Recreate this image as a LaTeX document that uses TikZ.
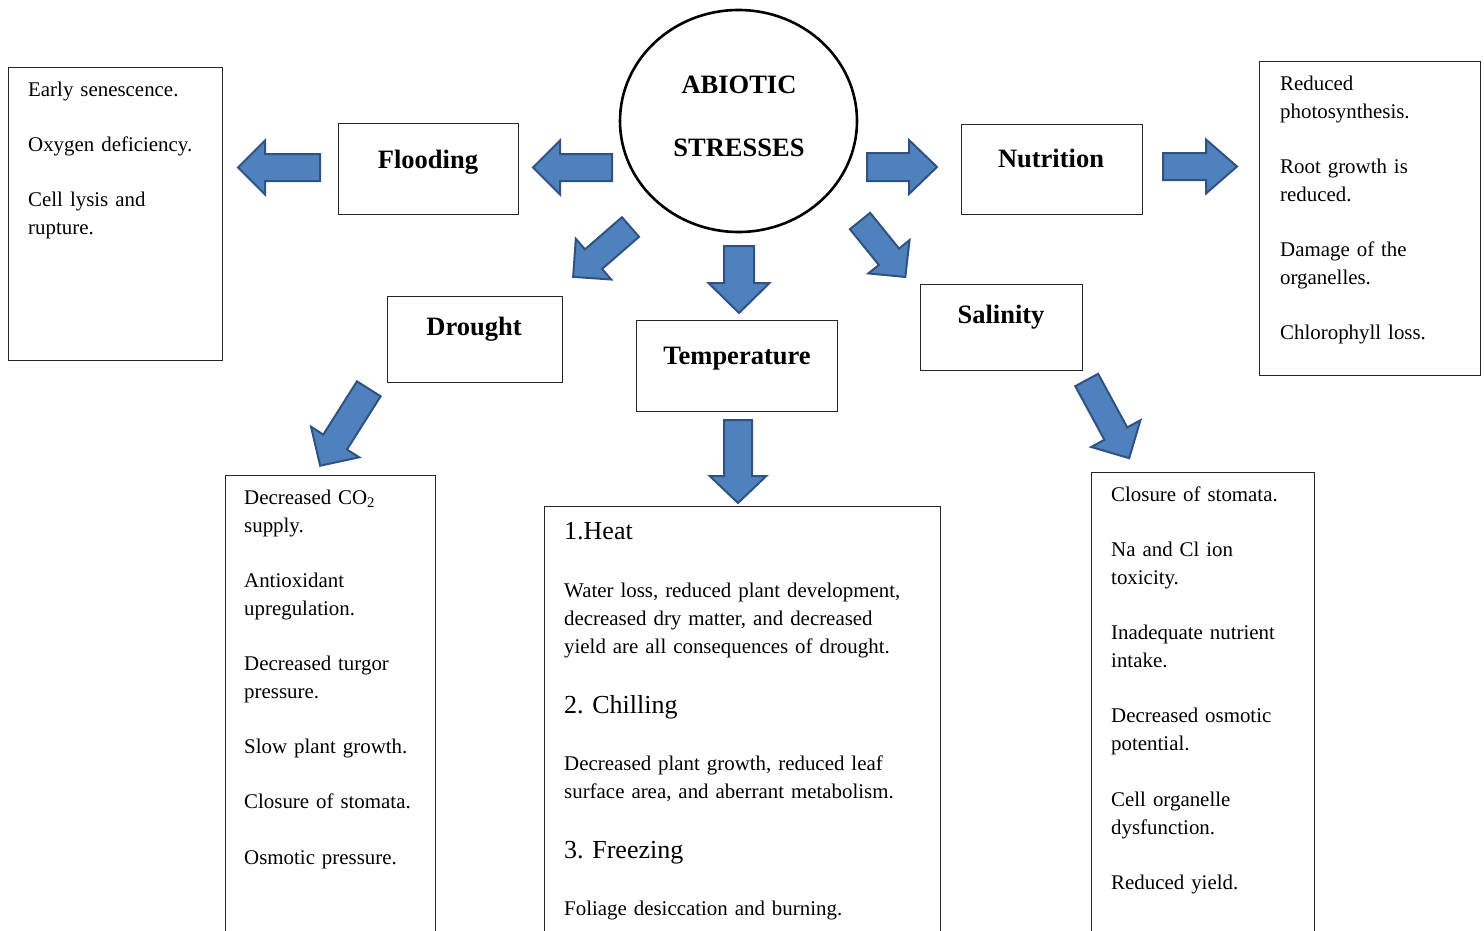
\documentclass[tikz,border=0pt]{standalone}
\usepackage{fontspec}
\setmainfont{Liberation Serif}
\usetikzlibrary{shapes.geometric}
\definecolor{arrowfill}{HTML}{4F81BD}
\definecolor{arrowdraw}{HTML}{2F5283}
\definecolor{boxline}{HTML}{262626}
\tikzset{
  box/.style={draw=boxline, line width=1.4pt, rectangle, inner sep=0pt, anchor=north west},
  titletxt/.style={font=\fontsize{26.5}{30}\selectfont\bfseries, inner sep=0pt, anchor=base},
  bodytxt/.style={font=\fontsize{20.9}{28}\selectfont, inner sep=0pt, anchor=base west, text width=#1, align=left},
  bodytxt/.default=380pt,
  headtxt/.style={font=\fontsize{26}{30}\selectfont, inner sep=0pt, anchor=base west},
  blkstyle/.style={fill=arrowfill, draw=arrowdraw, line width=2pt, line join=miter},
  pics/blk/.style n args={4}{code={
    \draw[blkstyle] (0,-#2) -- ({#1-#4},-#2) -- ({#1-#4},-#3) -- (#1,0)
      -- ({#1-#4},#3) -- ({#1-#4},#2) -- (0,#2) -- cycle;}}
}
\begin{document}
\begin{tikzpicture}[x=1pt,y=-1pt]
\useasboundingbox (0,0) rectangle (1484,930);
\clip (0,0) rectangle (1484,930);

% central ellipse
\node[ellipse, draw=black, line width=2.6pt, minimum width=237pt, minimum height=222pt, inner sep=0pt] (ab) at (738.5,121) {};
\node[titletxt] (abt1) at (739,93) {ABIOTIC};
\node[titletxt] (abt2) at (739,156) {STRESSES};

% title boxes
\node[box, minimum width=180pt, minimum height=91pt] (fl) at (338,123) {};
\node[titletxt] (flt) at (428,168) {Flooding};
\node[box, minimum width=181pt, minimum height=90pt] (nu) at (961,124) {};
\node[titletxt] (nut) at (1051,167) {Nutrition};
\node[box, minimum width=175pt, minimum height=86pt] (dr) at (387,296) {};
\node[titletxt] (drt) at (474,335) {Drought};
\node[box, minimum width=201pt, minimum height=91pt] (te) at (636,320) {};
\node[titletxt] (tet) at (737,364) {Temperature};
\node[box, minimum width=162pt, minimum height=86pt] (sa) at (920,284) {};
\node[titletxt] (sat) at (1001,323) {Salinity};

% flooding effects
\node[box, minimum width=214pt, minimum height=293pt] (fe) at (8,67) {};
\node[bodytxt=190pt] (fet) at (28,96) {Early senescence.\\[27pt]Oxygen deficiency.\\[27pt]Cell lysis and\\rupture.};

% nutrition effects
\node[box, minimum width=221pt, minimum height=314pt] (ne) at (1259,61) {};
\node[bodytxt=200pt] (net) at (1280,90) {Reduced\\photosynthesis.\\[27pt]Root growth is\\reduced.\\[27pt]Damage of the\\organelles.\\[27pt]Chlorophyll loss.};

% drought effects
\node[box, minimum width=210pt, minimum height=500pt] (de) at (225,475) {};
\node[bodytxt=190pt] (det) at (244,504) {Decreased CO\textsubscript{2}\\supply.\\[27pt]Antioxidant\\upregulation.\\[27pt]Decreased turgor\\pressure.\\[27pt]Slow plant growth.\\[27pt]Closure of stomata.\\[28pt]Osmotic pressure.};

% temperature effects
\node[box, minimum width=396pt, minimum height=500pt] (tee) at (544,506) {};
\node[headtxt] (th1) at (564,539.5) {1.Heat};
\node[bodytxt] (tp1) at (564,597) {Water loss, reduced plant development,\\decreased dry matter, and decreased\\yield are all consequences of drought.};
\node[headtxt] (th2) at (564,713.5) {2. Chilling};
\node[bodytxt] (tp2) at (564,770) {Decreased plant growth, reduced leaf\\surface area, and aberrant metabolism.};
\node[headtxt] (th3) at (564,858.5) {3. Freezing};
\node[bodytxt] (tp3) at (564,915) {Foliage desiccation and burning.};

% salinity effects
\node[box, minimum width=223pt, minimum height=500pt] (se) at (1091,472) {};
\node[bodytxt=200pt] (set) at (1111,501) {Closure of stomata.\\[27pt]Na and Cl ion\\toxicity.\\[27pt]Inadequate nutrient\\intake.\\[27pt]Decreased osmotic\\potential.\\[28pt]Cell organelle\\dysfunction.\\[27pt]Reduced yield.};

% block arrows
\pic[rotate=180] (a1) at (320,167.5) {blk={82}{13.5}{27}{27}};
\pic[rotate=180] (a2) at (612,167.5) {blk={79}{13.5}{27}{27}};
\pic (a3) at (867,167) {blk={70}{14}{27}{28}};
\pic (a4) at (1163,166.5) {blk={74}{13.5}{27}{31}};
\pic[rotate=221] (a5) at (630.5,227) {blk={76}{13}{27}{27}};
\pic[rotate=-90] (a6) at (739,246) {blk={67}{15}{30.5}{30}};
\pic[rotate=-51] (a7) at (860,221) {blk={72}{13}{26.5}{26}};
\pic[rotate=-122.3] (a8) at (368.8,388.8) {blk={91}{14}{28.5}{28}};
\pic[rotate=-90] (a9) at (738,420) {blk={83}{14}{28.3}{27}};
\pic[rotate=-61.5] (a10) at (1086.7,380) {blk={89}{13}{28}{28}};
\end{tikzpicture}
\end{document}
